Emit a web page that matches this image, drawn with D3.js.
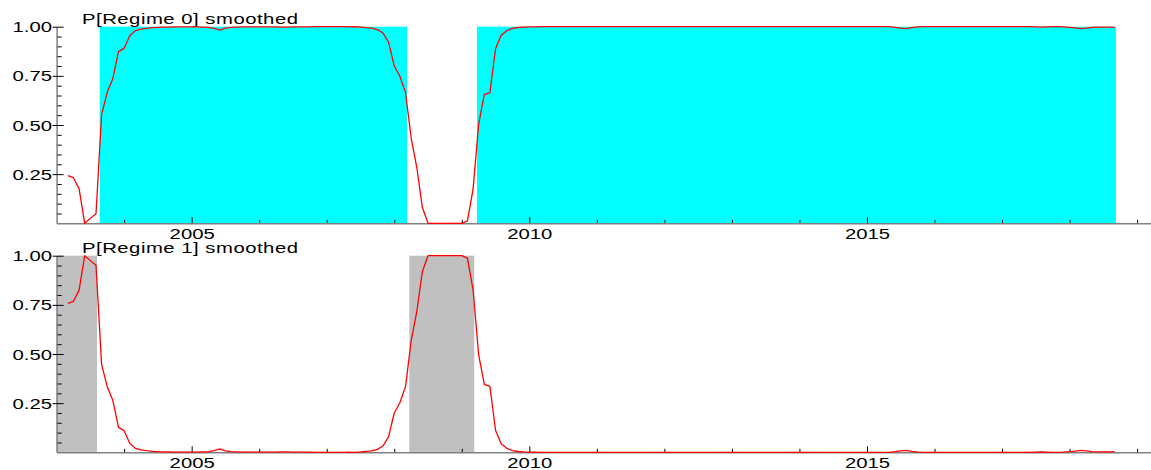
<!DOCTYPE html>
<html>
<head>
<meta charset="utf-8">
<script src="https://cdn.jsdelivr.net/npm/d3@7"></script>
<style>
body { margin: 0; background: #fff; }
text { font-family: "Liberation Sans", Arial, sans-serif; font-size: 14px; fill: #000; }
</style>
</head>
<body>
<div id="chart-area"></div>
<script>
// monthly data, first observation 2003 M3
const startYear = 2003;
const startMonth = 3;

// P[Regime 0] smoothed
const regime0 = [
	// 2003 (Mar-Dec)
	0.242, 0.232, 0.175, 0.000, 0.025, 0.049, 0.554, 0.666, 0.737, 0.873,
	// 2004
	0.890, 0.954, 0.980, 0.988, 0.992, 0.995, 0.997, 0.998, 0.998, 0.999, 0.999, 0.999,
	// 2005
	0.999, 0.999, 0.998, 0.997, 0.992, 0.983, 0.993, 0.997, 0.998, 0.999, 0.999, 0.999,
	// 2006
	0.999, 0.999, 0.999, 0.999, 0.998, 0.998, 0.999, 0.999, 0.999, 0.999, 1.000, 1.000,
	// 2007
	1.000, 1.000, 1.000, 1.000, 0.999, 1.000, 0.998, 0.995, 0.993, 0.985, 0.968, 0.920,
	// 2008
	0.800, 0.748, 0.666, 0.435, 0.285, 0.080, 0.000, 0.000, 0.000, 0.000, 0.000, 0.000,
	// 2009
	0.000, 0.012, 0.172, 0.505, 0.654, 0.665, 0.888, 0.956, 0.980, 0.991, 0.996, 0.998,
	// 2010
	0.999, 0.999, 1.000, 1.000, 1.000, 1.000, 1.000, 1.000, 1.000, 1.000, 1.000, 1.000,
	// 2011
	1.000, 1.000, 1.000, 1.000, 1.000, 1.000, 1.000, 1.000, 1.000, 1.000, 1.000, 1.000,
	// 2012
	1.000, 1.000, 1.000, 1.000, 1.000, 1.000, 1.000, 1.000, 1.000, 1.000, 1.000, 1.000,
	// 2013
	1.000, 1.000, 1.000, 1.000, 1.000, 1.000, 1.000, 1.000, 1.000, 1.000, 1.000, 1.000,
	// 2014
	1.000, 1.000, 1.000, 1.000, 1.000, 1.000, 1.000, 1.000, 1.000, 1.000, 1.000, 1.000,
	// 2015
	1.000, 1.000, 1.000, 1.000, 1.000, 0.997, 0.993, 0.990, 0.995, 0.999, 1.000, 1.000,
	// 2016
	1.000, 1.000, 1.000, 1.000, 1.000, 1.000, 1.000, 1.000, 1.000, 1.000, 1.000, 1.000,
	// 2017
	1.000, 1.000, 1.000, 1.000, 1.000, 1.000, 0.999, 0.998, 0.999, 1.000, 1.000, 0.999,
	// 2018 (Jan-Sep)
	0.997, 0.994, 0.990, 0.993, 0.997, 0.998, 0.998, 0.998, 0.997
];

// P[Regime 1] smoothed
const regime1 = [
	// 2003 (Mar-Dec)
	0.758, 0.768, 0.825, 1.000, 0.975, 0.951, 0.446, 0.334, 0.263, 0.127,
	// 2004
	0.110, 0.046, 0.020, 0.012, 0.008, 0.005, 0.003, 0.002, 0.002, 0.001, 0.001, 0.001,
	// 2005
	0.001, 0.001, 0.002, 0.003, 0.008, 0.017, 0.007, 0.003, 0.002, 0.001, 0.001, 0.001,
	// 2006
	0.001, 0.001, 0.001, 0.001, 0.002, 0.002, 0.001, 0.001, 0.001, 0.001, 0.000, 0.000,
	// 2007
	0.000, 0.000, 0.000, 0.000, 0.001, 0.000, 0.002, 0.005, 0.007, 0.015, 0.032, 0.080,
	// 2008
	0.200, 0.252, 0.334, 0.565, 0.715, 0.920, 1.000, 1.000, 1.000, 1.000, 1.000, 1.000,
	// 2009
	1.000, 0.988, 0.828, 0.495, 0.346, 0.335, 0.112, 0.044, 0.020, 0.009, 0.004, 0.002,
	// 2010
	0.001, 0.001, 0.000, 0.000, 0.000, 0.000, 0.000, 0.000, 0.000, 0.000, 0.000, 0.000,
	// 2011
	0.000, 0.000, 0.000, 0.000, 0.000, 0.000, 0.000, 0.000, 0.000, 0.000, 0.000, 0.000,
	// 2012
	0.000, 0.000, 0.000, 0.000, 0.000, 0.000, 0.000, 0.000, 0.000, 0.000, 0.000, 0.000,
	// 2013
	0.000, 0.000, 0.000, 0.000, 0.000, 0.000, 0.000, 0.000, 0.000, 0.000, 0.000, 0.000,
	// 2014
	0.000, 0.000, 0.000, 0.000, 0.000, 0.000, 0.000, 0.000, 0.000, 0.000, 0.000, 0.000,
	// 2015
	0.000, 0.000, 0.000, 0.000, 0.000, 0.003, 0.007, 0.010, 0.005, 0.001, 0.000, 0.000,
	// 2016
	0.000, 0.000, 0.000, 0.000, 0.000, 0.000, 0.000, 0.000, 0.000, 0.000, 0.000, 0.000,
	// 2017
	0.000, 0.000, 0.000, 0.000, 0.000, 0.000, 0.001, 0.002, 0.001, 0.000, 0.000, 0.001,
	// 2018 (Jan-Sep)
	0.003, 0.006, 0.010, 0.007, 0.003, 0.002, 0.002, 0.002, 0.003
];

// shaded periods (decimal years)
const regime0Shade = [[2003.638, 2008.189], [2009.225, 2018.687]];
const regime1Shade = [[2003.000, 2003.598], [2008.223, 2009.185]];

const titles = ["P[Regime 0] smoothed", "P[Regime 1] smoothed"];

const yMajor = [0.25, 0.50, 0.75, 1.00];
const yLabels = ["0.25", "0.50", "0.75", "1.00"];
const yMinor = [0.05, 0.10, 0.15, 0.20, 0.30, 0.35, 0.40, 0.45, 0.55, 0.60, 0.65, 0.70, 0.80, 0.85, 0.90, 0.95];

const xMajor = [2005, 2010, 2015];
const xLabels = ["2005", "2010", "2015"];
const xMinor = [2004, 2006, 2007, 2008, 2009, 2011, 2012, 2013, 2014, 2016, 2017, 2018, 2019];

const width = 1151,
	height = 470;

// text in the original is stretched sideways
const stretch = 1.45;

var svg = d3.select("#chart-area")
	.append("svg")
		.attr("width", width)
		.attr("height", height);

var dates = regime0.map((d, i) => startYear + (startMonth - 1 + i) / 12);

var x = d3.scaleLinear()
	.domain([2003, 2019.2])
	.range([56.6, 1150.6]);

function drawPanel(top, title, values, shades, fill) {
	var y = d3.scaleLinear()
		.domain([0, 1])
		.range([top + 196.6, top]);

	var g = svg.append("g");

	// shading
	g.selectAll("rect")
		.data(shades)
		.enter()
		.append("rect")
			.attr("x", (d) => x(d[0]))
			.attr("width", (d) => x(d[1]) - x(d[0]))
			.attr("y", y(1))
			.attr("height", y(0) - y(1))
			.attr("fill", fill);

	// x minor ticks
	var xMin = g.append("g")
		.attr("transform", "translate(0, " + y(0) + ")")
		.call(d3.axisBottom(x).tickValues(xMinor).tickSizeInner(-3.5).tickSizeOuter(0).tickFormat(""));
	xMin.select(".domain").remove();

	// x axis
	var xAx = g.append("g")
		.attr("transform", "translate(0, " + y(0) + ")")
		.call(d3.axisBottom(x).tickValues(xMajor).tickSizeInner(-6).tickSizeOuter(0).tickPadding(5.5)
			.tickFormat((d, i) => xLabels[i]));
	xAx.select(".domain").attr("stroke", "#808080").attr("stroke-width", 1.5);
	xAx.selectAll("text").attr("transform", "scale(" + stretch + ",1)");

	// y minor ticks
	var yMin = g.append("g")
		.attr("transform", "translate(" + x(2003) + ", 0)")
		.call(d3.axisLeft(y).tickValues(yMinor).tickSizeInner(-5).tickSizeOuter(0).tickFormat(""));
	yMin.select(".domain").remove();

	// y axis
	var yAx = g.append("g")
		.attr("transform", "translate(" + x(2003) + ", 0)")
		.call(d3.axisLeft(y).tickValues(yMajor).tickSizeInner(-7).tickSizeOuter(0).tickPadding(3.2)
			.tickFormat((d, i) => yLabels[i]));
	yAx.select(".domain").attr("stroke", "#808080").attr("stroke-width", 1.5);
	yAx.selectAll(".tick line").attr("x1", -4);
	yAx.selectAll("text")
		.attr("dy", "0.36em")
		.attr("transform", "scale(" + stretch + ",1)");

	// title
	g.append("text")
		.attr("transform", "translate(82, " + (top - 2.7) + ") scale(" + stretch + ",1)")
		.attr("textLength", 216 / stretch)
		.attr("lengthAdjust", "spacing")
		.text(title);

	// probability line
	var line = d3.line()
		.x((d, i) => x(dates[i]))
		.y((d) => y(d));

	g.append("path")
		.datum(values)
		.attr("d", line)
		.attr("fill", "none")
		.attr("stroke", "#ff0000")
		.attr("stroke-width", 1.3)
		.attr("stroke-linejoin", "round");
}

drawPanel(26.7, titles[0], regime0, regime0Shade, "#00ffff");
drawPanel(255.7, titles[1], regime1, regime1Shade, "#c0c0c0");

</script>
</body>
</html>
